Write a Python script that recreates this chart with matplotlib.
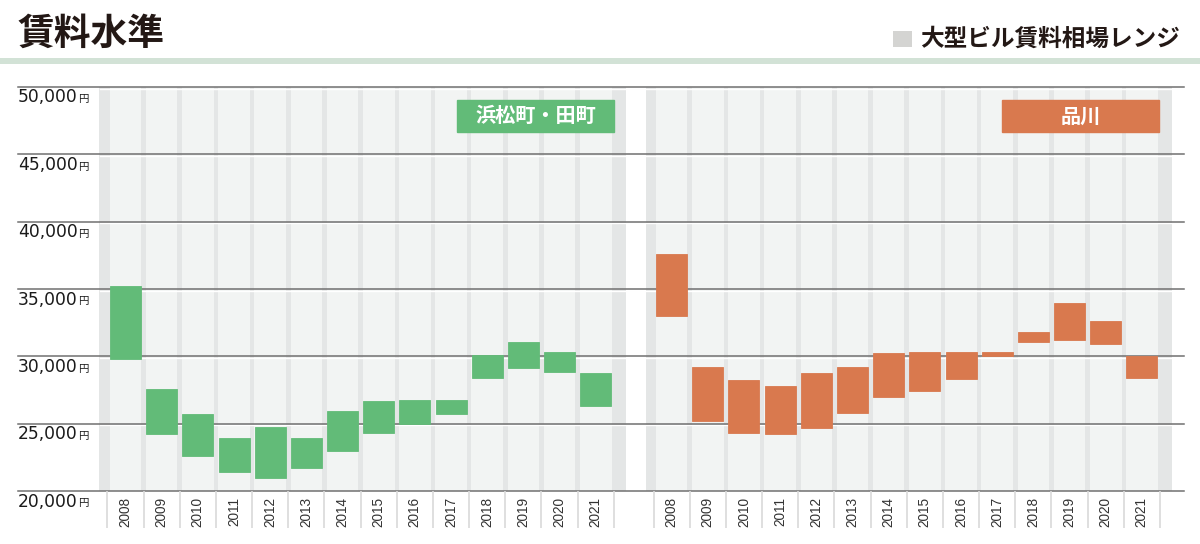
import numpy as np
import matplotlib.pyplot as plt
from matplotlib.patches import Rectangle
from matplotlib.transforms import ScaledTranslation

plt.rcParams['font.family'] = ['DejaVu Sans', 'Noto Sans CJK JP']

years = [str(y) for y in range(2008, 2022)]
# 浜松町・田町 (low / high, 円/坪)
hama_low = [29800, 24200, 22600, 21400, 21000, 21700, 23000, 24300, 25000, 25750, 28400, 29100, 28800, 26300]
hama_high = [35200, 27550, 25750, 23950, 24750, 23950, 25950, 26650, 26750, 26750, 30100, 31050, 30300, 28750]
# 品川
shina_low = [33000, 25200, 24300, 24200, 24700, 25800, 27000, 27400, 28300, 30000, 31100, 31200, 30900, 28400]
shina_high = [37600, 29200, 28250, 27800, 28750, 29200, 30250, 30350, 30350, 30350, 31800, 33950, 32650, 30000]
yticks = [20000, 25000, 30000, 35000, 40000, 45000, 50000]

green = '#62bb78'
orange = '#d9794e'
dark_strip = '#e4e6e6'
light_col = '#f2f4f3'
jp = 'Noto Sans CJK JP'

fig = plt.figure(figsize=(12, 5.44), dpi=100)
ax = fig.add_axes([18 / 1200, 53 / 544, 1166 / 1200, 404 / 544])

xg = np.arange(len(years))
xo = np.arange(len(years)) + 15.1

for xs, col, lo, hi in [(xg, green, hama_low, hama_high), (xo, orange, shina_low, shina_high)]:
    ax.axvspan(xs[0] - 0.72, xs[-1] + 0.84, color=dark_strip, zorder=0.2, lw=0)
    ax.bar(xs, 30000, bottom=20000, width=0.875, color=light_col, zorder=0.3, lw=0)
    ax.bar(xs, np.array(hi) - np.array(lo), bottom=lo, width=0.857,
           color=col, edgecolor=col, lw=0.6, zorder=2)
    # separators under the axis
    sep = np.arange(len(xs) + 1) + xs[0] - 0.5
    ax.vlines(sep, -0.092, 0, transform=ax.get_xaxis_transform(),
              color='#d9d9d9', lw=1.2, clip_on=False)

ax.set_xlim(-2.972, 29.265)
ax.set_ylim(20000, 50000)
down = ScaledTranslation(0, -1.5 / 100, fig.dpi_scale_trans)
for y in yticks:
    wl = ax.axhline(y, color='#ffffff', lw=1.0, zorder=0.9, clip_on=False, xmin=0.07, xmax=1)
    wl.set_transform(wl.get_transform() + down)
    ax.axhline(y, color='#707070', lw=1.1, zorder=1, clip_on=False)
    t = ax.text(0, y, f'{y:,}', transform=ax.get_yaxis_transform() + down,
                ha='left', va='top', fontsize=12.3, color='#1a1a1a',
                family='DejaVu Sans')
    ax.annotate('円', xy=(1, 0.12), xycoords=t, xytext=(0.2, 0), textcoords='offset points',
                ha='left', va='bottom', fontsize=7.5, color='#1a1a1a', family=jp)

ax.set_xticks(np.concatenate([xg, xo]), labels=years + years, rotation=90,
              fontsize=9.8, color='#333333', family='Liberation Sans')
ax.tick_params(axis='x', length=0, pad=4.5)
ax.tick_params(axis='y', left=False, labelleft=False)
for s in ax.spines.values():
    s.set_visible(False)

# panel labels
for (x0, x1), col, name in [((0.3765, 0.511), green, '浜松町・田町'),
                            ((0.844, 0.9786), orange, '品川')]:
    ax.add_patch(Rectangle((x0, 0.889), x1 - x0, 0.079, transform=ax.transAxes,
                           color=col, zorder=3, clip_on=False))
    ax.text((x0 + x1) / 2, 0.9285, name, transform=ax.transAxes, ha='center', va='center',
            color='white', fontsize=14.5, fontweight='bold', family=jp, zorder=4)

# header
fig.text(18 / 1200, 1 - 34 / 544, '賃料水準', ha='left', va='center', fontsize=26.5,
         fontweight='bold', family=jp, color='#231815')
fig.add_artist(Rectangle((0, 1 - 64 / 544), 1, 6 / 544, transform=fig.transFigure,
                         color='#d2e2d6', lw=0))
fig.add_artist(Rectangle((893 / 1200, 1 - 47.3 / 544), 19 / 1200, 16.6 / 544,
                         transform=fig.transFigure, color='#d4d4d2', lw=0))
fig.text(1180 / 1200, 1 - 39 / 544, '大型ビル賃料相場レンジ', ha='right', va='center',
         fontsize=17, fontweight='bold', family=jp, color='#231815')

fig.savefig('out.png', dpi=100)
